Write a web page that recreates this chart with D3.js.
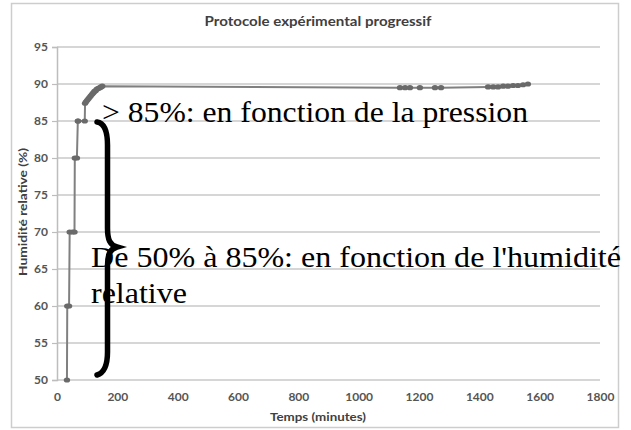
<!DOCTYPE html>
<html><head><meta charset="utf-8">
<script src="https://cdn.jsdelivr.net/npm/d3@7"></script>
<style>body{margin:0;background:#fff;} svg{display:block;}</style>
</head><body>
<script>
// ---- data ----
const times = [33,34,40,42,52,58,59,66,69,70,92,93,96,100,104,108,112,116,120,124,128,132,137,142,146,150,
  1137,1154,1170,1203,1253,1273,1429,1446,1462,1479,1495,1512,1528,1545,1561];
const humidity = [50,60,60,70,70,70,80,80,85,85,85,87.4,87.6,87.8,88.0,88.2,88.4,88.6,88.8,89.0,89.1,89.3,89.4,89.5,89.6,89.7,
  89.5,89.5,89.5,89.5,89.5,89.5,89.6,89.6,89.6,89.7,89.7,89.8,89.8,89.9,90.0];
const xTicks = [0,200,400,600,800,1000,1200,1400,1600,1800];
const yTicks = [50,55,60,65,70,75,80,85,90,95];
const title = "Protocole expérimental progressif";
const xTitle = "Temps (minutes)";
const yTitle = "Humidité relative (%)";
const note1 = "> 85%: en fonction de la pression";
const note2a = "De 50% à 85%: en fonction de l'humidité";
const note2b = "relative";

const W = 631, H = 430;
const svg = d3.select("body").append("svg").attr("width", W).attr("height", H);

// outer chart border
svg.append("rect").attr("x", 11.5).attr("y", 3.5).attr("width", 607).attr("height", 424)
  .attr("fill", "#fff").attr("stroke", "#cdcdcd").attr("stroke-width", 1.5);

const x = d3.scaleLinear().domain([0, 1800]).range([57, 600]);
const y = d3.scaleLinear().domain([50, 95]).range([380, 47]);

const sans = "Lato, 'Open Sans', sans-serif";

// gridlines
svg.append("g").selectAll("line").data(yTicks).join("line")
  .attr("x1", x(0)).attr("x2", x(1800))
  .attr("y1", d => y(d)).attr("y2", d => y(d))
  .attr("stroke", "#c8c8c8").attr("stroke-width", 1.5);

// y axis
const yAxis = d3.axisLeft(y).tickValues(yTicks).tickSize(5).tickPadding(4).tickFormat(d3.format("d"));
const gy = svg.append("g").attr("transform", `translate(${x(0)},0)`).call(yAxis);
gy.select(".domain").attr("stroke", "#bdbdbd").attr("stroke-width", 1.5);
gy.selectAll(".tick line").attr("stroke", "#bdbdbd").attr("stroke-width", 1.2);
gy.selectAll("text").attr("font-family", sans).attr("font-weight", "bold")
  .attr("font-size", 12).attr("fill", "#555");

// x axis
const xAxis = d3.axisBottom(x).tickValues(xTicks).tickSize(0).tickPadding(12).tickFormat(d3.format("d"));
const gx = svg.append("g").attr("transform", `translate(0,${y(50)})`).call(xAxis);
gx.select(".domain").remove();
gx.selectAll("text").attr("font-family", sans).attr("font-weight", "bold")
  .attr("font-size", 12).attr("fill", "#555");

// titles
svg.append("text").attr("x", 318).attr("y", 26).attr("text-anchor", "middle")
  .attr("font-family", sans).attr("font-weight", "bold").attr("font-size", 13)
  .attr("textLength", 227).attr("lengthAdjust", "spacingAndGlyphs")
  .attr("fill", "#404040").text(title);
svg.append("text").attr("x", 318).attr("y", 421).attr("text-anchor", "middle")
  .attr("font-family", sans).attr("font-weight", "bold").attr("font-size", 12)
  .attr("textLength", 96).attr("lengthAdjust", "spacingAndGlyphs")
  .attr("fill", "#404040").text(xTitle);
svg.append("text").attr("transform", "translate(27,212) rotate(-90)").attr("text-anchor", "middle")
  .attr("font-family", sans).attr("font-weight", "bold").attr("font-size", 11)
  .attr("textLength", 128).attr("lengthAdjust", "spacingAndGlyphs")
  .attr("fill", "#404040").text(yTitle);

// data line
const pts = times.map((t, i) => [t, humidity[i]]);
svg.append("path").datum(pts)
  .attr("d", d3.line().x(d => x(d[0])).y(d => y(d[1])))
  .attr("fill", "none").attr("stroke", "#808080").attr("stroke-width", 2);
svg.append("g").selectAll("ellipse").data(pts).join("ellipse")
  .attr("cx", d => x(d[0])).attr("cy", d => y(d[1])).attr("rx", 3.2).attr("ry", 2.6)
  .attr("fill", "#6a6a6a");

// curly brace
svg.append("path")
  .attr("d", "M97,122 C104,123 107.5,130 107.5,145 L107.5,228 C107.5,240 110,245 117,247 C110,249 107.5,254 107.5,266 L107.5,352 C107.5,366 104,373 97,375")
  .attr("fill", "none").attr("stroke", "#000").attr("stroke-width", 5.5).attr("stroke-linecap", "round");

// annotations
const serif = "'Liberation Serif', 'Times New Roman', serif";
svg.append("text").attr("x", 102).attr("y", 122).attr("font-family", serif).attr("font-size", 29)
  .attr("textLength", 426).attr("lengthAdjust", "spacingAndGlyphs")
  .attr("fill", "#000").text(note1);
svg.append("text").attr("x", 91).attr("y", 267).attr("font-family", serif).attr("font-size", 29)
  .attr("textLength", 530).attr("lengthAdjust", "spacingAndGlyphs")
  .attr("fill", "#000").text(note2a);
svg.append("text").attr("x", 91).attr("y", 303).attr("font-family", serif).attr("font-size", 29)
  .attr("textLength", 96).attr("lengthAdjust", "spacingAndGlyphs")
  .attr("fill", "#000").text(note2b);
</script>
</body></html>
